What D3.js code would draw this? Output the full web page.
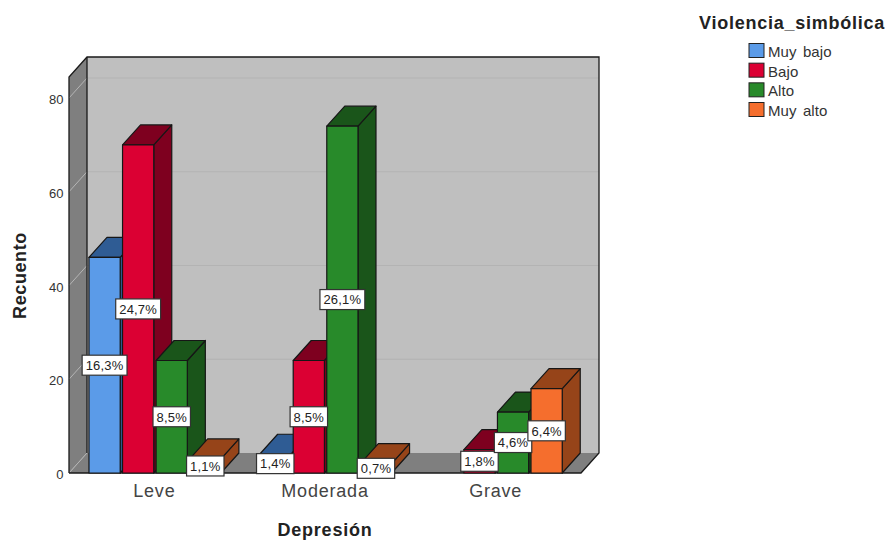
<!DOCTYPE html>
<html>
<head>
<meta charset="utf-8">
<script src="https://cdn.jsdelivr.net/npm/d3@7"></script>
<style>
  html, body { margin: 0; padding: 0; background: #fff; }
  svg { display: block; font-family: "Liberation Sans", Arial, sans-serif; }
  .axis path, .axis line { display: none; }
</style>
</head>
<body>
<svg id="chart" width="888" height="543"></svg>
<script>
// Counts of Violencia_simbólica by level of Depresión
const categories = ["Leve", "Moderada", "Grave"];
const seriesNames = ["Muy bajo", "Bajo", "Alto", "Muy alto"];
const muyBajo = [46, 4, 0];
const bajo = [70, 24, 5];
const alto = [24, 74, 13];
const muyAlto = [3, 2, 18];
const muyBajoPct = ["16,3%", "1,4%", null];
const bajoPct = ["24,7%", "8,5%", "1,8%"];
const altoPct = ["8,5%", "26,1%", "4,6%"];
const muyAltoPct = ["1,1%", "0,7%", "6,4%"];
const yTicks = [0, 20, 40, 60, 80];

const seriesValues = [muyBajo, bajo, alto, muyAlto];
const seriesLabels = [muyBajoPct, bajoPct, altoPct, muyAltoPct];
const frontColors = ["#5b9be8", "#db0033", "#288a2a", "#f56e2d"];
const sideColors = ["#2f5c94", "#7e001f", "#1a551a", "#964419"];

const svg = d3.select("#chart");

// Front plane of the 3D box and the oblique offset to its back plane
const left = 69, right = 581, floorY = 473, topY = 77;
const depthX = 18, depthY = -20;

const y = d3.scaleLinear().domain([0, 80]).range([floorY, 98]);
const x0 = d3.scaleBand().domain(categories).range([left, right]);
const x1 = d3.scaleBand().domain(d3.range(seriesNames.length))
  .range([18.8, x0.bandwidth() - 17.6]).paddingInner(0.07).paddingOuter(0.035);

const poly = pts => pts.map(p => p.join(",")).join(" ");

// Walls and floor
const walls = svg.append("g");
walls.append("polygon")
  .attr("points", poly([[left + depthX, topY + depthY], [right + depthX, topY + depthY],
    [right + depthX, floorY + depthY], [left + depthX, floorY + depthY]]))
  .attr("fill", "#bfbfbf");
walls.append("polygon")
  .attr("points", poly([[left, topY], [left + depthX, topY + depthY],
    [left + depthX, floorY + depthY], [left, floorY]]))
  .attr("fill", "#7f7f7f");
walls.append("polygon")
  .attr("points", poly([[left, floorY], [left + depthX, floorY + depthY],
    [right + depthX, floorY + depthY], [right, floorY]]))
  .attr("fill", "#7f7f7f");

// Gridlines run across the back wall and down the side wall
const grid = svg.append("g");
yTicks.forEach(t => {
  if (t > 0) {
    grid.append("line")
      .attr("x1", left + depthX).attr("x2", right + depthX)
      .attr("y1", y(t) + depthY).attr("y2", y(t) + depthY)
      .attr("stroke", "#b3b3b3").attr("stroke-width", 1);
  }
  grid.append("line")
    .attr("x1", left).attr("x2", left + depthX)
    .attr("y1", y(t)).attr("y2", y(t) + depthY)
    .attr("stroke", "#b5b5b5").attr("stroke-width", 1);
});

// Box outline
const outline = svg.append("g").attr("fill", "none").attr("stroke", "#1a1a1a").attr("stroke-width", 1.3);
outline.append("polyline")
  .attr("points", poly([[left, floorY], [left, topY], [left + depthX, topY + depthY],
    [right + depthX, topY + depthY], [right + depthX, floorY + depthY], [right, floorY], [left, floorY]]));
outline.append("line")
  .attr("x1", left + depthX).attr("x2", left + depthX)
  .attr("y1", topY + depthY).attr("y2", floorY + depthY);

// Bars: left to right within each group so nearer faces overlap
const bars = svg.append("g");
const labelData = [];
categories.forEach((cat, c) => {
  seriesNames.forEach((name, s) => {
    const v = seriesValues[s][c];
    if (v <= 0) return;
    const bx = x0(cat) + x1(s), w = x1.bandwidth();
    const by = y(v), b0 = y(0);
    const g = bars.append("g")
      .attr("stroke", "#161616").attr("stroke-width", 1.2).attr("stroke-linejoin", "round");
    g.append("polygon")
      .attr("points", poly([[bx + w, by], [bx + w + depthX, by + depthY],
        [bx + w + depthX, b0 + depthY], [bx + w, b0]]))
      .attr("fill", sideColors[s]);
    g.append("polygon")
      .attr("points", poly([[bx, by], [bx + depthX, by + depthY],
        [bx + w + depthX, by + depthY], [bx + w, by]]))
      .attr("fill", sideColors[s]);
    g.append("rect")
      .attr("x", bx).attr("y", by).attr("width", w).attr("height", b0 - by)
      .attr("fill", frontColors[s]);
    labelData.push({ text: seriesLabels[s][c], cx: bx + w / 2, cy: (by + b0) / 2 });
  });
});

// Value labels sit in white boxes sized to their text, at the middle of each front face
const labels = svg.append("g");
labelData.forEach(d => {
  const box = labels.append("rect").attr("fill", "#fff").attr("stroke", "#333").attr("stroke-width", 1.2);
  const txt = labels.append("text")
    .attr("x", d.cx).attr("y", d.cy + 4.8).attr("text-anchor", "middle")
    .attr("font-size", 13).attr("letter-spacing", 0.2).attr("fill", "#222").text(d.text);
  const tw = txt.node().getComputedTextLength() + 7;
  box.attr("x", d.cx - tw / 2).attr("y", d.cy - 10).attr("width", tw).attr("height", 20);
});

// Axes
const yAxis = svg.append("g").attr("class", "axis")
  .attr("transform", `translate(${left},1.5)`)
  .call(d3.axisLeft(y).tickValues(yTicks).tickSize(0).tickPadding(5.5));
yAxis.selectAll("text").attr("font-size", 13).attr("font-family", "inherit").attr("fill", "#333");

const xAxis = svg.append("g").attr("class", "axis")
  .attr("transform", `translate(0,${floorY})`)
  .call(d3.axisBottom(x0).tickSize(0).tickPadding(11));
xAxis.selectAll("text").attr("font-size", 18).attr("letter-spacing", 0.8)
  .attr("font-family", "inherit").attr("fill", "#444");

svg.append("text")
  .attr("transform", "translate(26,275.5) rotate(-90)")
  .attr("text-anchor", "middle").attr("font-size", 18).attr("letter-spacing", 0.6)
  .attr("font-weight", "bold").attr("fill", "#222")
  .text("Recuento");
svg.append("text")
  .attr("x", 325).attr("y", 536).attr("text-anchor", "middle")
  .attr("font-size", 18).attr("letter-spacing", 0.8)
  .attr("font-weight", "bold").attr("fill", "#222")
  .text("Depresión");

// Legend
const legend = svg.append("g");
legend.append("text")
  .attr("x", 699).attr("y", 29).attr("font-size", 18).attr("letter-spacing", 0.75)
  .attr("font-weight", "bold").attr("fill", "#222")
  .text("Violencia_simbólica");
const legendY = d3.scalePoint().domain(seriesNames).range([50.5, 109.5]);
seriesNames.forEach((name, s) => {
  legend.append("rect")
    .attr("x", 749).attr("y", legendY(name) - 7).attr("width", 15).attr("height", 14)
    .attr("fill", frontColors[s]).attr("stroke", "#222").attr("stroke-width", 1);
  legend.append("text")
    .attr("x", 768).attr("y", legendY(name) + 6.5)
    .attr("font-size", 15).attr("letter-spacing", 0.1).attr("fill", "#333").attr("word-spacing", 2)
    .text(name);
});
</script>
</body>
</html>
